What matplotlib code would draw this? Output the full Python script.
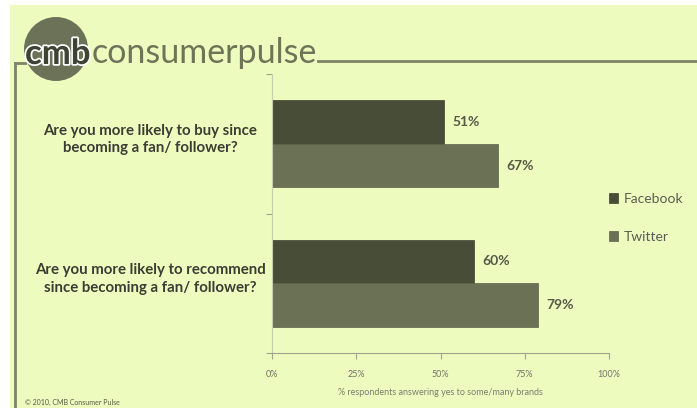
import matplotlib
matplotlib.use("Agg")
import matplotlib.pyplot as plt
from matplotlib.patches import Rectangle, Circle
from matplotlib.lines import Line2D
import matplotlib.patheffects as pe

# -------------------------
# Data
# -------------------------

questions = [
    "Are you more likely to buy since\nbecoming a fan/ follower?",
    "Are you more likely to recommend\nsince becoming a fan/ follower?",
]
facebook = [51, 60]
twitter = [67, 79]
series_names = ["Facebook", "Twitter"]
x_ticks = [0, 25, 50, 75, 100]
x_tick_labels = ["0%", "25%", "50%", "75%", "100%"]

bg = "#EEFBBE"
fb_color = "#484D38"
tw_color = "#6B7155"
frame_color = "#7E8466"

plt.rcParams["font.family"] = ["Lato", "DejaVu Sans"]

W, H = 697, 408
fig = plt.figure(figsize=(W / 100, H / 100), dpi=100, facecolor="white")

# light background panel (white strip on top/left)
fig.patches.append(Rectangle((10 / W, 0), 1 - 10 / W, 1 - 5 / H,
                             transform=fig.transFigure, facecolor=bg,
                             edgecolor="none", zorder=-10))

# frame lines
fig.lines.append(Line2D([15 / W, 15 / W], [0, 1 - 63 / H], transform=fig.transFigure,
                        color=frame_color, lw=2))
fig.lines.append(Line2D([15 / W, 25 / W], [1 - 63 / H, 1 - 63 / H], transform=fig.transFigure,
                        color=frame_color, lw=2))
fig.lines.append(Line2D([318 / W, 1], [1 - 61 / H, 1 - 61 / H], transform=fig.transFigure,
                        color=frame_color, lw=2))

# logo (circle in inches so it stays round)
fig.patches.append(Circle((0.56, (H - 49) / 100), 0.32, transform=fig.dpi_scale_trans,
                          facecolor="#6C7257", edgecolor="none", zorder=1))
fig.text(25 / W, 1 - 64 / H, "cmb", fontsize=25, fontweight="bold", color="#3F4334",
         ha="left", va="baseline", zorder=2,
         path_effects=[pe.withStroke(linewidth=2.5, foreground="white")])
fig.text(92 / W, 1 - 63 / H, "consumerpulse", fontsize=24.5, color="#6E7458",
         ha="left", va="baseline")

# -------------------------
# Chart
# -------------------------

ax = fig.add_axes([272 / W, 1 - 353 / H, 337 / W, 279 / H])
ax.set_facecolor("none")

pos = list(range(len(questions)))
h = 0.312
ax.barh([p - h / 2 for p in pos], facebook, height=h, color=fb_color,
        edgecolor="#3E4230", linewidth=0.5, label=series_names[0])
ax.barh([p + h / 2 for p in pos], twitter, height=h, color=tw_color,
        edgecolor="#5C6148", linewidth=0.5, label=series_names[1])

for p, v in zip(pos, facebook):
    ax.annotate(f"{v}%", (v, p - h / 2), xytext=(6, 0), textcoords="offset points",
                va="center", ha="left", fontsize=10, fontweight="bold", color="#555A48")
for p, v in zip(pos, twitter):
    ax.annotate(f"{v}%", (v, p + h / 2), xytext=(6, 0), textcoords="offset points",
                va="center", ha="left", fontsize=10, fontweight="bold", color="#555A48")

ax.set_xlim(0, 100)
ax.set_ylim(1.5, -0.5)
ax.set_xticks(x_ticks)
ax.set_xticklabels(x_tick_labels, fontsize=6.5, color="#707468")
ax.set_yticks([-0.5, 0.5, 1.5])
ax.set_yticklabels([])
ax.tick_params(axis="x", length=4, width=0.8, color="#A0A48E", pad=8)
ax.tick_params(axis="y", length=4, width=0.8, color="#A0A48E")

for s in ["top", "right"]:
    ax.spines[s].set_visible(False)
ax.spines["bottom"].set_color("#A0A48E")
ax.spines["left"].set_color("#C9CDB0")
ax.spines["left"].set_linestyle((0, (1, 1)))

ax.set_xlabel("% respondents answering yes to some/many brands", fontsize=6.5,
              color="#7A7E70", labelpad=7)

tr = matplotlib.transforms.blended_transform_factory(fig.transFigure, ax.transData)
for p, q in zip(pos, questions):
    ax.text(150 / W, p - 0.03, q, transform=tr, ha="center", va="center",
            multialignment="center", fontsize=10.8, fontweight="bold",
            color="#3A3D33", linespacing=1.35)

fig.legend(loc="center left", bbox_to_anchor=(596 / W, 1 - 218 / H), frameon=False,
           fontsize=10, labelcolor="#5A5E52", handlelength=0.7, handleheight=0.7,
           handletextpad=0.4, labelspacing=1.85)

fig.text(25 / W, 1 - 402 / H, "\u00a9 2010, CMB Consumer Pulse", fontsize=5,
         color="#555A48", ha="left", va="center")

plt.savefig("out.png", dpi=100, facecolor="white")
